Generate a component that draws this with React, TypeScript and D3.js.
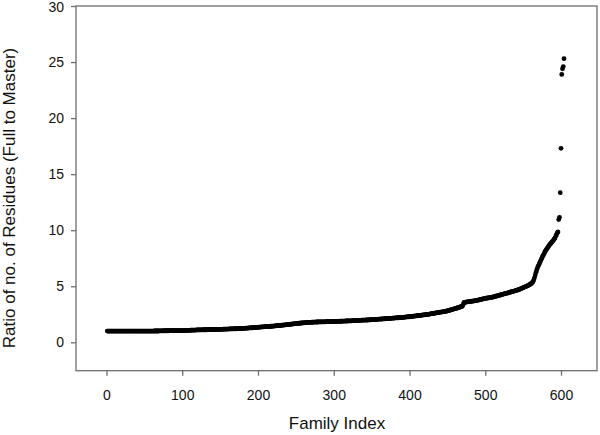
import { useEffect, useRef } from "react";
import * as d3 from "d3";

// ratio values of each family, already sorted ascending (index = position + 1)
const ratios1to100 = [
  1.0, 1.0, 1.0, 1.0, 1.0, 1.0, 1.0, 1.0, 1.0, 1.0,
  1.0, 1.0, 1.0, 1.0, 1.0, 1.0, 1.0, 1.0, 1.0, 1.0,
  1.0, 1.0, 1.0, 1.0, 1.0, 1.0, 1.0, 1.0, 1.0, 1.0,
  1.0, 1.0, 1.0, 1.0, 1.0, 1.0, 1.0, 1.0, 1.0, 1.0,
  1.0, 1.0, 1.0, 1.0, 1.0, 1.0, 1.0, 1.0, 1.0, 1.0,
  1.0, 1.0, 1.0, 1.0, 1.0, 1.0, 1.0, 1.0, 1.0, 1.0,
  1.0, 1.0, 1.01, 1.01, 1.01, 1.01, 1.01, 1.01, 1.01, 1.02,
  1.02, 1.02, 1.02, 1.02, 1.02, 1.03, 1.03, 1.03, 1.03, 1.03,
  1.03, 1.03, 1.04, 1.04, 1.04, 1.04, 1.04, 1.04, 1.04, 1.05,
  1.05, 1.05, 1.05, 1.05, 1.05, 1.05, 1.05, 1.05, 1.05, 1.05,
];
const ratios101to200 = [
  1.05, 1.05, 1.06, 1.06, 1.06, 1.06, 1.07, 1.07, 1.07, 1.07,
  1.08, 1.08, 1.08, 1.08, 1.09, 1.09, 1.09, 1.09, 1.1, 1.1,
  1.1, 1.1, 1.1, 1.11, 1.11, 1.11, 1.11, 1.12, 1.12, 1.12,
  1.12, 1.12, 1.13, 1.13, 1.13, 1.13, 1.13, 1.14, 1.14, 1.14,
  1.14, 1.14, 1.14, 1.15, 1.15, 1.15, 1.15, 1.15, 1.15, 1.16,
  1.16, 1.16, 1.16, 1.17, 1.17, 1.17, 1.17, 1.18, 1.18, 1.18,
  1.18, 1.19, 1.19, 1.19, 1.19, 1.2, 1.2, 1.2, 1.21, 1.21,
  1.21, 1.21, 1.22, 1.22, 1.22, 1.23, 1.23, 1.23, 1.24, 1.24,
  1.25, 1.25, 1.25, 1.26, 1.26, 1.27, 1.27, 1.28, 1.28, 1.29,
  1.29, 1.3, 1.3, 1.31, 1.31, 1.32, 1.32, 1.33, 1.33, 1.34,
];
const ratios201to300 = [
  1.35, 1.35, 1.36, 1.36, 1.37, 1.37, 1.38, 1.38, 1.39, 1.39,
  1.4, 1.4, 1.41, 1.41, 1.42, 1.42, 1.43, 1.43, 1.44, 1.44,
  1.45, 1.46, 1.46, 1.47, 1.48, 1.48, 1.49, 1.5, 1.5, 1.51,
  1.52, 1.53, 1.53, 1.54, 1.55, 1.56, 1.56, 1.57, 1.58, 1.59,
  1.6, 1.6, 1.61, 1.62, 1.63, 1.64, 1.64, 1.65, 1.66, 1.67,
  1.67, 1.68, 1.69, 1.7, 1.7, 1.71, 1.72, 1.72, 1.73, 1.74,
  1.74, 1.75, 1.75, 1.76, 1.76, 1.77, 1.77, 1.78, 1.78, 1.78,
  1.79, 1.79, 1.79, 1.8, 1.8, 1.8, 1.81, 1.81, 1.81, 1.82,
  1.82, 1.82, 1.82, 1.82, 1.83, 1.83, 1.83, 1.83, 1.83, 1.84,
  1.84, 1.84, 1.84, 1.84, 1.85, 1.85, 1.85, 1.85, 1.85, 1.86,
];
const ratios301to400 = [
  1.86, 1.86, 1.86, 1.87, 1.87, 1.87, 1.87, 1.88, 1.88, 1.88,
  1.88, 1.89, 1.89, 1.89, 1.89, 1.9, 1.9, 1.9, 1.91, 1.91,
  1.91, 1.92, 1.92, 1.92, 1.93, 1.93, 1.93, 1.94, 1.94, 1.94,
  1.95, 1.95, 1.95, 1.96, 1.96, 1.96, 1.97, 1.97, 1.97, 1.98,
  1.98, 1.98, 1.99, 1.99, 1.99, 2.0, 2.0, 2.01, 2.01, 2.02,
  2.02, 2.02, 2.03, 2.03, 2.04, 2.04, 2.05, 2.05, 2.06, 2.06,
  2.07, 2.07, 2.08, 2.08, 2.09, 2.09, 2.1, 2.1, 2.11, 2.11,
  2.12, 2.12, 2.13, 2.13, 2.14, 2.14, 2.15, 2.15, 2.16, 2.16,
  2.17, 2.17, 2.18, 2.18, 2.19, 2.19, 2.2, 2.2, 2.21, 2.22,
  2.22, 2.23, 2.24, 2.24, 2.25, 2.26, 2.26, 2.27, 2.28, 2.28,
];
const ratios401to500 = [
  2.29, 2.3, 2.31, 2.32, 2.33, 2.33, 2.34, 2.35, 2.36, 2.37,
  2.38, 2.39, 2.4, 2.4, 2.41, 2.42, 2.43, 2.44, 2.44, 2.45,
  2.46, 2.47, 2.48, 2.49, 2.5, 2.51, 2.52, 2.54, 2.55, 2.56,
  2.57, 2.58, 2.59, 2.61, 2.62, 2.63, 2.64, 2.66, 2.67, 2.68,
  2.69, 2.7, 2.71, 2.72, 2.73, 2.74, 2.75, 2.77, 2.78, 2.8,
  2.82, 2.84, 2.86, 2.88, 2.9, 2.92, 2.94, 2.96, 2.98, 3.0,
  3.02, 3.04, 3.06, 3.08, 3.1, 3.13, 3.15, 3.18, 3.2, 3.23,
  3.4, 3.55, 3.57, 3.58, 3.59, 3.6, 3.61, 3.62, 3.63, 3.64,
  3.65, 3.66, 3.67, 3.68, 3.69, 3.7, 3.72, 3.73, 3.74, 3.75,
  3.77, 3.78, 3.8, 3.82, 3.84, 3.85, 3.87, 3.88, 3.9, 3.92,
];
const ratios501to604 = [
  3.93, 3.94, 3.95, 3.96, 3.97, 3.98, 3.99, 4.0, 4.02, 4.03,
  4.05, 4.07, 4.09, 4.11, 4.13, 4.15, 4.17, 4.18, 4.2, 4.22,
  4.24, 4.26, 4.28, 4.3, 4.32, 4.34, 4.36, 4.37, 4.39, 4.41,
  4.43, 4.45, 4.47, 4.49, 4.51, 4.53, 4.55, 4.57, 4.59, 4.61,
  4.63, 4.65, 4.67, 4.69, 4.72, 4.75, 4.78, 4.81, 4.84, 4.87,
  4.9, 4.93, 4.96, 4.99, 5.02, 5.05, 5.08, 5.12, 5.16, 5.2,
  5.25, 5.32, 5.4, 5.55, 5.75, 6.0, 6.25, 6.45, 6.65, 6.8,
  6.95, 7.1, 7.25, 7.4, 7.55, 7.7, 7.8, 7.95, 8.1, 8.2,
  8.3, 8.4, 8.5, 8.6, 8.7, 8.78, 8.86, 8.94, 9.02, 9.1,
  9.2, 9.3, 9.45, 9.6, 9.75, 9.85, 10.95, 11.15, 13.35, 17.3,
  23.9, 24.4, 24.6, 25.3,
];

const xTicks = [0, 100, 200, 300, 400, 500, 600];
const yTicks = [0, 5, 10, 15, 20, 25, 30];

const ratios = [
  ...ratios1to100,
  ...ratios101to200,
  ...ratios201to300,
  ...ratios301to400,
  ...ratios401to500,
  ...ratios501to604,
];

const width = 600;
const height = 435;
const frame = { left: 76, right: 597, top: 6, bottom: 370.7 };
const font = "'Liberation Sans', Arial, Helvetica, sans-serif";
const axisGray = "#6e6e6e";

export default function App() {
  const svgRef = useRef<SVGSVGElement>(null);

  useEffect(() => {
    const svg = d3.select(svgRef.current);
    svg.selectAll("*").remove();

    const x = d3.scaleLinear().domain([0, 600]).range([106.5, 561]);
    const y = d3.scaleLinear().domain([0, 30]).range([342.3, 6]);

    // box around the plot
    svg
      .append("rect")
      .attr("x", frame.left)
      .attr("y", frame.top)
      .attr("width", frame.right - frame.left)
      .attr("height", frame.bottom - frame.top)
      .attr("fill", "none")
      .attr("stroke", axisGray)
      .attr("stroke-width", 1.3);

    // x axis
    const xAxis = svg
      .append("g")
      .attr("transform", `translate(0, ${frame.bottom})`)
      .call(d3.axisBottom(x).tickValues(xTicks).tickSize(5).tickPadding(14).tickFormat(d3.format("d")));
    xAxis.select(".domain").remove();
    xAxis.selectAll("line").attr("stroke", axisGray).attr("stroke-width", 1.3);
    xAxis.selectAll("text").attr("font-family", font).attr("font-size", 14).attr("fill", "#111");

    // y axis
    const yAxis = svg
      .append("g")
      .attr("transform", `translate(${frame.left}, 0)`)
      .call(d3.axisLeft(y).tickValues(yTicks).tickSize(5).tickPadding(7).tickFormat(d3.format("d")));
    yAxis.select(".domain").remove();
    yAxis.selectAll("line").attr("stroke", axisGray).attr("stroke-width", 1.3);
    yAxis
      .selectAll("text")
      .attr("font-family", font)
      .attr("font-size", 14)
      .attr("fill", "#111")
      // the top label sits at the very edge of the page; keep it inside
      .attr("dy", (d) => (d === 30 ? "0.42em" : "0.32em"));

    // points
    svg
      .append("g")
      .selectAll("circle")
      .data(ratios)
      .enter()
      .append("circle")
      .attr("cx", (d, i) => x(i + 1))
      .attr("cy", (d) => y(d))
      .attr("r", 2.4)
      .attr("fill", "#000");

    // titles
    svg
      .append("text")
      .attr("x", 337)
      .attr("y", 429)
      .attr("text-anchor", "middle")
      .attr("font-family", font)
      .attr("font-size", 17)
      .attr("fill", "#111")
      .text("Family Index");

    svg
      .append("text")
      .attr("transform", `translate(15, 198) rotate(-90)`)
      .attr("text-anchor", "middle")
      .attr("font-family", font)
      .attr("font-size", 17)
      .attr("fill", "#111")
      .text("Ratio of no. of Residues (Full to Master)");
  }, []);

  return (
    <svg
      ref={svgRef}
      width={width}
      height={height}
      style={{ position: "absolute", left: 0, top: 0, background: "#fff" }}
    />
  );
}
